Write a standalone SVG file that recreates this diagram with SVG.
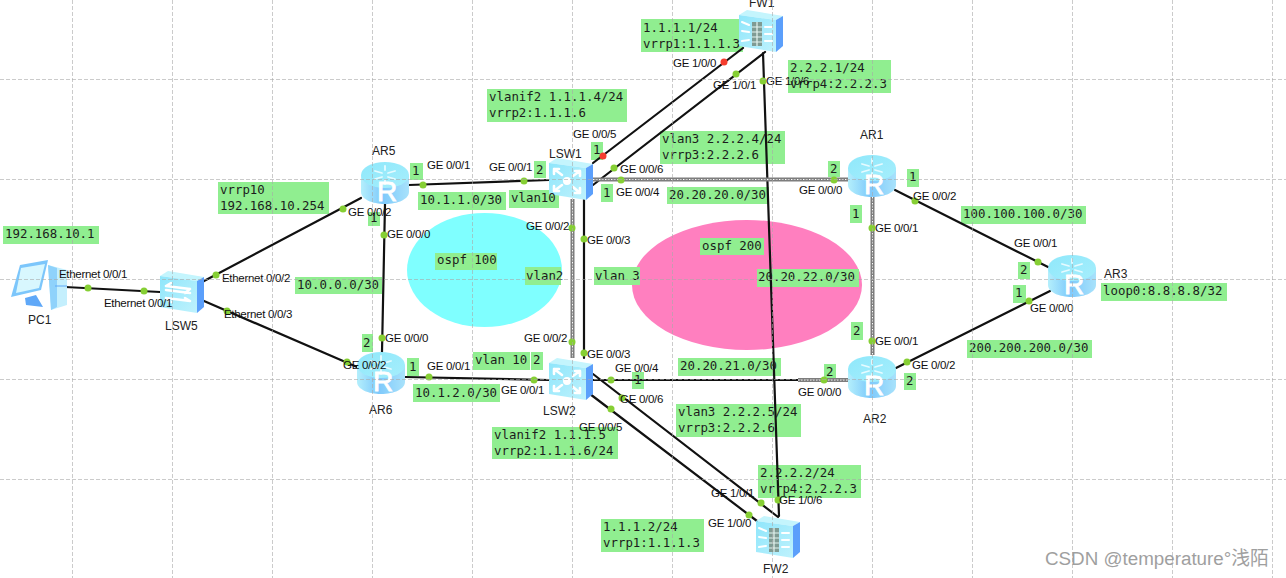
<svg xmlns="http://www.w3.org/2000/svg" width="1286" height="578" viewBox="0 0 1286 578">
<style>
.bg{fill:#fff}
.link{stroke:#111;stroke-width:2.2;fill:none;stroke-linecap:round}
.trunk{stroke:#7d7d7d;stroke-width:4;fill:none}
.trunkin{stroke:#fff;stroke-width:1;stroke-dasharray:1.5 1.5;fill:none}
.dot{fill:#86cf34}
.red{fill:#f53d2e}
.box{fill:#90ee90}
.m{font:12.4px "DejaVu Sans Mono","Liberation Mono",monospace;fill:#1c1c1c}
.p{font:11.5px "Liberation Sans",Arial,sans-serif;fill:#111;letter-spacing:-.3px}
.n{font:12px "Liberation Sans",Arial,sans-serif;fill:#222}
.grid{stroke:#a8a8a8;stroke-width:1;stroke-dasharray:4 2;opacity:.6;fill:none}
.wm{font:18.8px "Liberation Sans","Noto Sans CJK SC",sans-serif;fill:#8f8f8f;opacity:.85}
.iw{fill:none;stroke:#fff;stroke-width:2.6;stroke-linecap:round}
.ia{fill:none;stroke:#e6fbff;stroke-width:1.8;stroke-linecap:round}
</style>
<defs>
<linearGradient id="cyl" x1="0" x2="1" y1="0" y2="0"><stop offset="0" stop-color="#b4effc"/><stop offset=".45" stop-color="#7ec9fb"/><stop offset="1" stop-color="#a8e2fb"/></linearGradient>
<linearGradient id="top" x1="0" x2="1" y1="0" y2="1"><stop offset="0" stop-color="#8fe8fb"/><stop offset="1" stop-color="#a6eefc"/></linearGradient>
<linearGradient id="front" x1="0" x2="1" y1="0" y2="1"><stop offset="0" stop-color="#8fe6fb"/><stop offset="1" stop-color="#bff2fd"/></linearGradient>
<symbol id="router" viewBox="0 0 48 42" width="48" height="42" overflow="visible">
<path d="M0 13V30C0 37 11 42 24 42S48 37 48 30V13Z" fill="url(#cyl)"/>
<ellipse cx="24" cy="13" rx="24" ry="13" fill="url(#top)"/>
<path class="ia" d="M14 9l7 2M34 9l-7 2M14 17l7-2M34 17l-7-2M24 4v4M24 22v-4"/>
<text x="16" y="39" font-family="Liberation Sans,Arial,sans-serif" font-size="28" fill="#fff" stroke="#fff" stroke-width=".8">R</text>
</symbol>
<symbol id="sw" viewBox="0 0 44 42" width="44" height="42" overflow="visible">
<path d="M0 5L8 0L44 6L37 10Z" fill="#c4f5fd"/>
<path d="M37 10L44 6V36L37 42Z" fill="#5b9ffb"/>
<path d="M0 5L37 10V42L0 36Z" fill="url(#front)"/>
</symbol>
<symbol id="lsw3" viewBox="0 0 44 42" width="44" height="42" overflow="visible">
<use href="#sw"/>
<circle cx="18" cy="23" r="4" fill="#fff"/>
<path class="iw" d="M5 11l8 6M5 11v5M5 11h5M31 13l-7 5M31 13v5M31 13h-5M5 33l8-6M5 33v-5M5 33h5M31 35l-7-6M31 35v-5M31 35h-5"/>
</symbol>
<symbol id="lsw2" viewBox="0 0 44 42" width="44" height="42" overflow="visible">
<use href="#sw"/>
<path class="iw" d="M6 15l24 3M6 15l5-3M30 18l-5 4M6 19l24 3M6 27l24 3M30 30l-5-3M6 27l5 4"/>
</symbol>
<symbol id="fw" viewBox="0 0 44 42" width="44" height="42" overflow="visible">
<use href="#sw"/>
<rect x="13" y="12" width="10" height="24" fill="#7f9b93"/>
<path d="M13 17h10M13 22h10M13 27h10M13 32h10M18 12v24" stroke="#e4f4ef" stroke-width="1.2"/>
<path class="iw" style="stroke-width:2" d="M3 12l7 3M3 21l7 1M3 31l7-1M26 17h7M26 24h7M26 31h7"/>
</symbol>
<symbol id="pc" viewBox="0 0 54 50" width="54" height="50" overflow="visible">
<path d="M35 5L54 10V45L38 50Z" fill="#c4effd"/>
<path d="M35 5L44 8V47L38 50Z" fill="#8fd2fb"/>
<path d="M7 5L35 0L28 30L-2 37Z" fill="#7cc6fb"/>
<path d="M8 8L32 4L26 28L3 33Z" fill="#d8f7fe"/>
<path d="M12 38L23 35L30 47L13 45Z" fill="#5fa8f8"/>
<path d="M42 26h12" stroke="#5fa8f8" stroke-width="1"/>
</symbol>
</defs>
<rect class="bg" width="1286" height="578"/>
<g id="ospf-areas">
<ellipse cx="484.500" cy="270" rx="77.500" ry="57" fill="#7fffff"/>
<ellipse cx="747" cy="285" rx="115" ry="65" fill="#ff7fbf"/>
</g>
<g id="note-boxes" class="box">
<rect x="641" y="19" width="102" height="33"/><rect x="487" y="89" width="140" height="33"/><rect x="788" y="60" width="103" height="33"/><rect x="660" y="131" width="125" height="33"/><rect x="591" y="142" width="12" height="18"/><rect x="534" y="161" width="12" height="17"/><rect x="509" y="190" width="50" height="18"/><rect x="418" y="192" width="88" height="18"/><rect x="601" y="184" width="12" height="18"/><rect x="667" y="187" width="102" height="17"/><rect x="828" y="161" width="12" height="16"/><rect x="850" y="205" width="12" height="18"/><rect x="700" y="238" width="64" height="17"/><rect x="218" y="182" width="111" height="32"/><rect x="3" y="226" width="96" height="18"/><rect x="410" y="163" width="13" height="17"/><rect x="368" y="212" width="12" height="14"/><rect x="295" y="277" width="87" height="17"/><rect x="362" y="334" width="11" height="18"/><rect x="407" y="358" width="12" height="18"/><rect x="413" y="384" width="87" height="18"/><rect x="435" y="253" width="62" height="17"/><rect x="525" y="267" width="36" height="18"/><rect x="594" y="267" width="46" height="18"/><rect x="473" y="352" width="57" height="18"/><rect x="531" y="352" width="12" height="18"/><rect x="632" y="372" width="12" height="17"/><rect x="678" y="358" width="103" height="18"/><rect x="676" y="404" width="125" height="33"/><rect x="492" y="427" width="126" height="32"/><rect x="758" y="465" width="103" height="33"/><rect x="601" y="519" width="103" height="33"/><rect x="824" y="364" width="12" height="18"/><rect x="851" y="322" width="12" height="18"/><rect x="907" y="169" width="12" height="18"/><rect x="961" y="206" width="125" height="18"/><rect x="757" y="269" width="102" height="18"/><rect x="1018" y="262" width="12" height="17"/><rect x="1013" y="285" width="13" height="18"/><rect x="1101" y="283" width="126" height="18"/><rect x="967" y="340" width="125" height="18"/><rect x="904" y="373" width="12" height="17"/>
</g>
<g id="connectors">
<path class="link" d="M65 287L160 292M204 281L361 198M204 301L357 367M385 204L382 352M409 185L549 180M405 377L549 380M584 199V358M593 163L743 48M593 185L765 52M763 53L779 516M593 374L778 517M590 394L757 521M593 380H800M895 190L1048 267M896 368L1050 291"/>
<path class="trunk" d="M572.500 199V358M593 179.500H848M872.500 197V355M798 380H848"/>
<path class="trunkin" d="M572.500 199V358M593 179.500H848M872.500 197V355M798 380H848"/>
</g>
<g id="ports">
<g class="dot">
<circle cx="88" cy="288" r="3.500"/><circle cx="144" cy="291" r="3.500"/><circle cx="216" cy="275" r="3.500"/><circle cx="343" cy="209" r="3.500"/><circle cx="227" cy="311" r="3.500"/><circle cx="347" cy="362" r="3.500"/><circle cx="384" cy="235" r="3.500"/><circle cx="382" cy="338" r="3.500"/><circle cx="423" cy="185" r="3.500"/><circle cx="524" cy="181" r="3.500"/><circle cx="429" cy="377" r="3.500"/><circle cx="534" cy="380" r="3.500"/><circle cx="572" cy="228" r="3.500"/><circle cx="572" cy="342" r="3.500"/><circle cx="584" cy="239" r="3.500"/><circle cx="584" cy="353" r="3.500"/><circle cx="614" cy="168" r="3.500"/><circle cx="736" cy="74" r="3.500"/><circle cx="763" cy="81" r="3.500"/><circle cx="778" cy="500" r="3.500"/><circle cx="621" cy="180" r="3.500"/><circle cx="834" cy="180" r="3.500"/><circle cx="611" cy="380" r="3.500"/><circle cx="824" cy="380" r="3.500"/><circle cx="872" cy="228" r="3.500"/><circle cx="872" cy="341" r="3.500"/><circle cx="915" cy="201" r="3.500"/><circle cx="1038" cy="262" r="3.500"/><circle cx="907" cy="362" r="3.500"/><circle cx="1029" cy="301" r="3.500"/><circle cx="622" cy="398" r="3.500"/><circle cx="761" cy="503" r="3.500"/><circle cx="611" cy="409" r="3.500"/><circle cx="749" cy="515" r="3.500"/>
</g>
<circle class="red" cx="603" cy="156" r="3.500"/><circle class="red" cx="724" cy="62" r="3.500"/>
</g>
<g id="PC1"><use href="#pc" x="13" y="260"/><text class="n" x="28" y="324">PC1</text></g>
<g id="LSW5"><use href="#lsw2" x="160" y="271"/><text class="n" x="165" y="330">LSW5</text></g>
<g id="AR5"><use href="#router" x="361" y="162"/><text class="n" x="372" y="155">AR5</text></g>
<g id="AR6"><use href="#router" x="357" y="352"/><text class="n" x="369" y="414">AR6</text></g>
<g id="LSW1"><use href="#lsw3" x="549" y="158"/><text class="n" x="549" y="158">LSW1</text></g>
<g id="LSW2"><use href="#lsw3" x="549" y="358"/><text class="n" x="543" y="415">LSW2</text></g>
<g id="FW1"><use href="#fw" x="739" y="10"/><text class="n" x="749" y="7">FW1</text></g>
<g id="FW2"><use href="#fw" x="756" y="516"/><text class="n" x="763" y="573">FW2</text></g>
<g id="AR1"><use href="#router" x="848" y="155"/><text class="n" x="860" y="139">AR1</text></g>
<g id="AR2"><use href="#router" x="848" y="356"/><text class="n" x="863" y="423">AR2</text></g>
<g id="AR3"><use href="#router" x="1048" y="255"/><text class="n" x="1104" y="278">AR3</text></g>
<g id="notes" class="m">
<text x="643" y="32">1.1.1.1/24<tspan x="643" dy="16">vrrp1:1.1.1.3</tspan></text>
<text x="489" y="101">vlanif2 1.1.1.4/24<tspan x="489" dy="16">vrrp2:1.1.1.6</tspan></text>
<text x="790" y="72">2.2.2.1/24<tspan x="790" dy="16">vrrp4:2.2.2.3</tspan></text>
<text x="662" y="143">vlan3 2.2.2.4/24<tspan x="662" dy="16">vrrp3:2.2.2.6</tspan></text>
<text x="220" y="194">vrrp10<tspan x="220" dy="16">192.168.10.254</tspan></text>
<text x="5" y="238">192.168.10.1</text>
<text x="593" y="154">1</text><text x="536" y="174">2</text>
<text x="511" y="202">vlan10</text>
<text x="420" y="204">10.1.1.0/30</text>
<text x="603" y="197">1</text>
<text x="669" y="199">20.20.20.0/30</text>
<text x="830" y="173">2</text><text x="852" y="218">1</text>
<text x="702" y="250">ospf 200</text>
<text x="412" y="175">1</text><text x="370" y="222">1</text>
<text x="297" y="289">10.0.0.0/30</text>
<text x="363" y="347">2</text><text x="409" y="371">1</text>
<text x="415" y="397">10.1.2.0/30</text>
<text x="437" y="264">ospf 100</text>
<text x="526" y="280">vlan2</text>
<text x="595" y="280">vlan 3</text>
<text x="475" y="364">vlan 10</text><text x="533" y="364">2</text>
<text x="634" y="384">1</text>
<text x="680" y="370">20.20.21.0/30</text>
<text x="678" y="416">vlan3 2.2.2.5/24<tspan x="678" dy="16">vrrp3:2.2.2.6</tspan></text>
<text x="494" y="439">vlanif2 1.1.1.5<tspan x="494" dy="16">vrrp2:1.1.1.6/24</tspan></text>
<text x="760" y="477">2.2.2.2/24<tspan x="760" dy="16">vrrp4:2.2.2.3</tspan></text>
<text x="603" y="531">1.1.1.2/24<tspan x="603" dy="16">vrrp1:1.1.1.3</tspan></text>
<text x="826" y="376">2</text><text x="853" y="335">2</text>
<text x="909" y="181">1</text>
<text x="963" y="218">100.100.100.0/30</text>
<text x="758" y="281">20.20.22.0/30</text>
<text x="1020" y="274">2</text><text x="1015" y="297">1</text>
<text x="1103" y="295">loop0:8.8.8.8/32</text>
<text x="969" y="352">200.200.200.0/30</text>
<text x="906" y="385">2</text>
</g>
<g id="port-labels" class="p">
<text x="673" y="67">GE 1/0/0</text><text x="713" y="89">GE 1/0/1</text><text x="766" y="85">GE 1/0/6</text>
<text x="573" y="138">GE 0/0/5</text><text x="489" y="171">GE 0/0/1</text><text x="620" y="173">GE 0/0/6</text><text x="616" y="196">GE 0/0/4</text><text x="799" y="194">GE 0/0/0</text><text x="526" y="230">GE 0/0/2</text><text x="587" y="244">GE 0/0/3</text>
<text x="875" y="232">GE 0/0/1</text><text x="913" y="200">GE 0/0/2</text><text x="1014" y="247">GE 0/0/1</text><text x="1030" y="312">GE 0/0/0</text><text x="875" y="345">GE 0/0/1</text><text x="912" y="369">GE 0/0/2</text><text x="798" y="396">GE 0/0/0</text>
<text x="59" y="278">Ethernet 0/0/1</text><text x="104" y="307">Ethernet 0/0/1</text><text x="222" y="282">Ethernet 0/0/2</text><text x="224" y="318">Ethernet 0/0/3</text>
<text x="348" y="216">GE 0/0/2</text><text x="387" y="238">GE 0/0/0</text><text x="385" y="342">GE 0/0/0</text><text x="343" y="369">GE 0/0/2</text><text x="427" y="169">GE 0/0/1</text><text x="427" y="370">GE 0/0/1</text>
<text x="524" y="342">GE 0/0/2</text><text x="587" y="358">GE 0/0/3</text><text x="615" y="372">GE 0/0/4</text><text x="620" y="403">GE 0/0/6</text><text x="579" y="431">GE 0/0/5</text><text x="501" y="394">GE 0/0/1</text>
<text x="711" y="497">GE 1/0/1</text><text x="779" y="504">GE 1/0/6</text><text x="708" y="527">GE 1/0/0</text>
</g>
<g id="grid">
<path class="grid" d="M72.500 0V578M172.500 0V578M272.500 0V578M372.500 0V578M472.500 0V578M572.500 0V578M672.500 0V578M772.500 0V578M872.500 0V578M972.500 0V578M1072.500 0V578M1172.500 0V578M1272.500 0V578M0 79.500H1286M0 179.500H1286M0 279.500H1286M0 379.500H1286M0 479.500H1286"/>
</g>
<text class="wm" x="1045" y="565">CSDN @temperature°浅陌</text>
</svg>
